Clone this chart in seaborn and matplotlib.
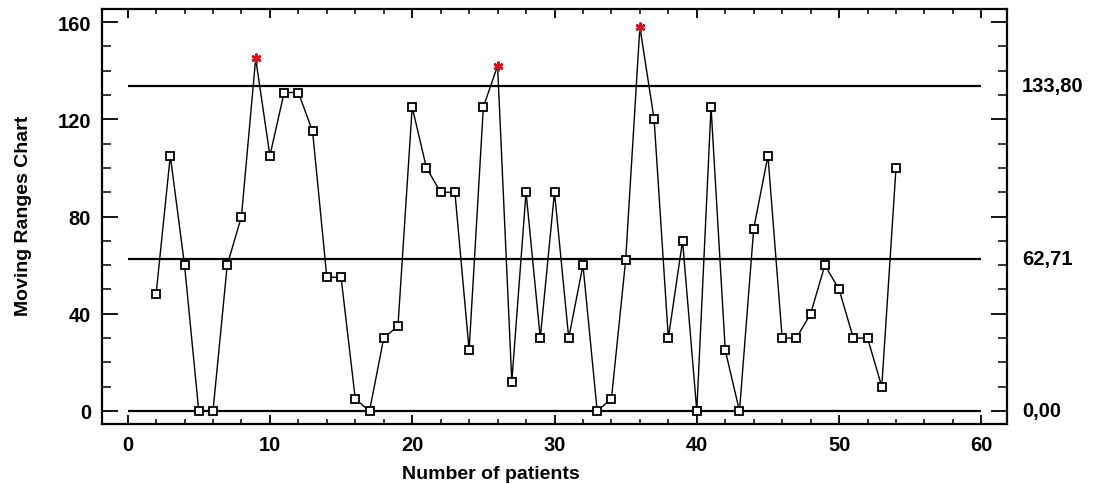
import matplotlib
matplotlib.use("Agg")
import matplotlib.pyplot as plt
import matplotlib.transforms as mtransforms
from matplotlib.ticker import MultipleLocator
import numpy as np
import pandas as pd
import seaborn as sns

# ---- data ----
patients = list(range(2, 55))
moving_ranges = [48, 105, 60, 0, 0, 60, 80, 145, 105, 131, 131, 115, 55, 55, 5, 0,
                 30, 35, 125, 100, 90, 90, 25, 125, 142, 12, 90, 30, 90, 30, 60, 0,
                 5, 62, 158, 120, 30, 70, 0, 125, 25, 0, 75, 105, 30, 30, 40, 60,
                 50, 30, 30, 10, 100]
ucl, cl, lcl = 133.80, 62.71, 0.00
limit_labels = ["133,80", "62,71", "0,00"]
x_label = "Number of patients"
y_label = "Moving Ranges Chart"

df = pd.DataFrame({"patient": patients, "mr": moving_ranges})
df["out"] = df["mr"] > ucl

sns.set_theme(style="white")
plt.rcParams["font.family"] = ["Liberation Sans", "DejaVu Sans"]
plt.rcParams["font.weight"] = "bold"
plt.rcParams["text.color"] = "black"
plt.rcParams["axes.labelcolor"] = "black"
plt.rcParams["xtick.color"] = "black"
plt.rcParams["ytick.color"] = "black"

fig = plt.figure(figsize=(10.96, 4.85), dpi=100)
ax = fig.add_axes([102 / 1096, 1 - 425 / 485, 905 / 1096, 415 / 485])

# control lines
for y in (ucl, cl, lcl):
    ax.hlines(y, 0, 60, color="black", linewidth=1.6, zorder=1)

# data line
sns.lineplot(data=df, x="patient", y="mr", color="black", linewidth=1.0,
             ax=ax, zorder=2, estimator=None)
inc = df[~df["out"]]
ax.plot(inc["patient"], inc["mr"], linestyle="none", marker="s", markersize=5.5,
        markerfacecolor="white", markeredgecolor="black", markeredgewidth=1.3, zorder=3)
outc = df[df["out"]]
ax.plot(outc["patient"], outc["mr"], linestyle="none", marker=(6, 2, 0), markersize=7,
        markeredgecolor="#d0101a", markeredgewidth=1.8, zorder=4)

ax.set_xlim(-1.8, 61.8)
ax.set_ylim(-5.35, 165.35)
ax.xaxis.set_major_locator(MultipleLocator(10))
ax.xaxis.set_minor_locator(MultipleLocator(2))
ax.yaxis.set_major_locator(MultipleLocator(40))
ax.yaxis.set_minor_locator(MultipleLocator(10))

ax.tick_params(axis="x", which="major", direction="in", top=True, bottom=True,
               length=6.5, width=1.3, labelsize=14.5, pad=8, colors="black")
ax.tick_params(axis="x", which="minor", direction="in", top=True, bottom=True,
               length=3.6, width=1.1)
ax.tick_params(axis="y", which="major", direction="in", left=True, right=True,
               length=11.5, width=1.3, labelsize=14.5, pad=8, colors="black")
ax.tick_params(axis="y", which="minor", direction="in", left=True, right=True,
               length=6.5, width=1.1)
for lbl in ax.get_xticklabels() + ax.get_yticklabels():
    lbl.set_fontweight("bold")

for s in ax.spines.values():
    s.set_linewidth(1.6)
    s.set_color("black")

ax.set_xlabel(x_label, fontsize=14, fontweight="bold", color="black")
ax.set_ylabel(y_label, fontsize=14, fontweight="bold", color="black")
ax.xaxis.set_label_coords(0.43, -0.098)
ax.yaxis.set_label_coords(-0.077, 0.505)

trans = mtransforms.blended_transform_factory(ax.transAxes, ax.transData)
for y, t in zip((ucl, cl, lcl), limit_labels):
    ax.annotate(t, xy=(1.0, y), xycoords=trans, xytext=(15, 0),
                textcoords="offset pixels", ha="left", va="center",
                fontsize=14.5, fontweight="bold", color="black", annotation_clip=False)

ax.grid(False)
fig.savefig("out.png", dpi=100)
